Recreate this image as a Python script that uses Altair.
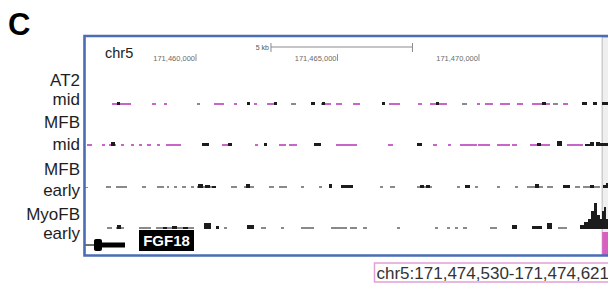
import altair as alt
import pandas as pd

CHROM = "chr5"
VIEW = [171456042, 171474843]            # visible genomic window (bp)
HIGHLIGHT = [171474530, 171474621]       # highlighted region
TICKS = [171460000, 171465000, 171470000]
SCALEBAR = [171462650, 171467650]        # 5 kb
GENE = "FGF18"
GENE_EXON = [171456395, 171456678]
GENE_THICK = [171456678, 171457490]

TRACKS = ["AT2 mid", "MFB mid", "MFB early", "MyoFB early"]
LABEL_LINES = ["AT2", "mid", "MFB", "mid", "MFB", "early", "MyoFB", "early"]

# (start, end, signal, kind)  kind: m = magenta, g = grey, k = black
AT2_MID = [
    (171457031, 171457703, 2, "m"), (171457208, 171457314, 3, "k"),
    (171458445, 171458586, 2, "m"), (171458869, 171458975, 2, "m"),
    (171460035, 171460141, 2, "g"), (171460636, 171460990, 2, "m"),
    (171461343, 171461449, 2, "m"), (171461802, 171461908, 3, "k"),
    (171462050, 171462156, 2, "m"), (171462509, 171462863, 2, "m"),
    (171462757, 171462863, 3, "k"), (171463357, 171463534, 2, "g"),
    (171464064, 171464205, 3, "k"), (171464418, 171464771, 2, "m"),
    (171464453, 171464559, 3, "k"), (171464948, 171465160, 2, "m"),
    (171465548, 171465796, 2, "m"), (171466573, 171466679, 3, "k"),
    (171466821, 171467209, 2, "m"), (171467845, 171467987, 2, "m"),
    (171468270, 171468870, 2, "m"), (171468482, 171468588, 3, "k"),
    (171469400, 171469577, 2, "g"), (171469931, 171470037, 2, "m"),
    (171470213, 171470496, 2, "m"), (171470743, 171471097, 2, "m"),
    (171471344, 171471556, 2, "m"), (171471874, 171472510, 2, "m"),
    (171472228, 171472369, 3, "k"), (171472616, 171472793, 2, "g"),
    (171472970, 171473146, 2, "m"), (171473641, 171473818, 3, "k"),
    (171474030, 171474171, 3, "k"), (171474348, 171474560, 3, "k"),
    (171474737, 171474843, 2, "m"),
]

MFB_MID = [
    (171456148, 171456325, 2, "m"), (171456678, 171456784, 2, "m"),
    (171456925, 171457173, 2, "m"), (171456996, 171457137, 4, "k"),
    (171457349, 171457456, 2, "m"), (171457703, 171457809, 2, "m"),
    (171457986, 171458092, 2, "m"), (171458268, 171458410, 2, "m"),
    (171458622, 171458728, 2, "m"), (171458940, 171459470, 2, "m"),
    (171460212, 171460459, 3, "k"), (171460919, 171461272, 2, "m"),
    (171461131, 171461272, 3, "k"), (171462085, 171462191, 2, "m"),
    (171462403, 171462509, 3, "k"), (171462933, 171463181, 2, "m"),
    (171463287, 171463569, 2, "m"), (171464170, 171464418, 3, "k"),
    (171464948, 171465690, 2, "m"), (171466785, 171466962, 2, "m"),
    (171467810, 171467987, 3, "k"), (171468376, 171468517, 2, "m"),
    (171468906, 171469012, 2, "m"), (171469330, 171469931, 2, "m"),
    (171469966, 171470390, 2, "m"), (171470637, 171471097, 2, "m"),
    (171471167, 171471344, 2, "m"), (171471804, 171472510, 2, "m"),
    (171472051, 171472192, 3, "k"), (171472758, 171472934, 5, "k"),
    (171473111, 171473677, 2, "m"), (171473747, 171473924, 2, "k"),
    (171473924, 171474065, 4, "k"), (171474136, 171474277, 4, "k"),
    (171474277, 171474383, 3, "k"), (171474383, 171474560, 3, "k"),
    (171474560, 171474701, 2, "k"), (171474701, 171474843, 3, "k"),
]

MFB_EARLY = [
    (171456042, 171456183, 1, "g"), (171456819, 171456996, 2, "g"),
    (171457173, 171457562, 2, "g"), (171458092, 171458233, 2, "g"),
    (171458622, 171458869, 2, "g"), (171458975, 171459046, 2, "g"),
    (171459223, 171459329, 2, "g"), (171459505, 171459647, 2, "g"),
    (171459823, 171459929, 2, "g"), (171460035, 171460707, 2, "g"),
    (171460071, 171460247, 4, "k"), (171460318, 171460495, 3, "k"),
    (171460565, 171460707, 2, "k"), (171461237, 171461449, 2, "g"),
    (171461696, 171462050, 2, "g"), (171461767, 171461908, 4, "k"),
    (171462580, 171462757, 2, "g"), (171462933, 171463216, 2, "g"),
    (171463711, 171463817, 2, "g"), (171464347, 171464453, 2, "g"),
    (171464700, 171464806, 4, "k"), (171465124, 171465548, 3, "k"),
    (171466503, 171466609, 2, "g"), (171466856, 171467033, 2, "g"),
    (171467810, 171468340, 2, "g"), (171467916, 171468058, 3, "k"),
    (171468128, 171468270, 3, "k"), (171469224, 171469330, 2, "g"),
    (171469506, 171469683, 3, "k"), (171469860, 171469966, 2, "g"),
    (171470637, 171470743, 2, "g"), (171471273, 171471379, 2, "g"),
    (171471698, 171472263, 2, "g"), (171471980, 171472122, 4, "k"),
    (171472404, 171472616, 2, "g"), (171472970, 171473217, 3, "k"),
    (171473394, 171473571, 2, "g"), (171473677, 171474277, 2, "g"),
    (171473924, 171474065, 3, "k"), (171474383, 171474489, 3, "k"),
    (171474489, 171474631, 5, "k"), (171474631, 171474843, 2, "k"),
]

MYOFB_EARLY = [
    (171456855, 171457031, 2, "g"), (171457173, 171457456, 2, "g"),
    (171457208, 171457349, 4, "k"), (171457986, 171458410, 2, "g"),
    (171458586, 171459929, 2, "g"), (171458834, 171458975, 2, "k"),
    (171459152, 171459329, 3, "k"), (171459541, 171459717, 2, "k"),
    (171460283, 171460530, 6, "k"), (171460707, 171460813, 3, "k"),
    (171460990, 171461096, 2, "g"), (171461802, 171462050, 4, "k"),
    (171462297, 171462474, 2, "g"), (171463004, 171463110, 2, "g"),
    (171463711, 171464170, 2, "g"), (171464771, 171465336, 2, "g"),
    (171465442, 171465690, 2, "g"), (171465902, 171466043, 2, "g"),
    (171467103, 171467209, 2, "g"), (171468446, 171468552, 2, "g"),
    (171468870, 171468976, 2, "g"), (171469153, 171469259, 2, "g"),
    (171469436, 171469577, 2, "g"), (171470390, 171470637, 2, "g"),
    (171471167, 171471344, 4, "k"), (171471874, 171472228, 3, "k"),
    (171472404, 171472581, 6, "k"), (171472793, 171473111, 2, "g"),
    (171473571, 171473712, 4, "k"), (171473712, 171473853, 7, "k"),
    (171473853, 171473959, 10, "k"), (171473959, 171474065, 18, "k"),
    (171474065, 171474171, 26, "k"), (171474171, 171474277, 14, "k"),
    (171474277, 171474348, 10, "k"), (171474348, 171474419, 18, "k"),
    (171474419, 171474489, 22, "k"), (171474489, 171474560, 10, "k"),
    (171474560, 171474631, 6, "k"), (171474631, 171474701, 20, "k"),
    (171474701, 171474772, 28, "k"), (171474772, 171474843, 16, "k"),
]

# ---------------- layout (pixels, page coordinate minus 8) ----------------
W, H = 600, 275
TRACK_BASE = {"AT2 mid": 97, "MFB mid": 138, "MFB early": 180, "MyoFB early": 221}
LABEL_BASELINES = [78, 97, 120, 142, 167, 188, 212, 231]

rows = []
for name, segs in zip(TRACKS, [AT2_MID, MFB_MID, MFB_EARLY, MYOFB_EARLY]):
    for s, e, v, k in segs:
        rows.append({"track": name, "start": s, "end": e, "signal": v, "kind": k,
                     "base": TRACK_BASE[name], "top": TRACK_BASE[name] - v,
                     "ord": {"m": 0, "g": 0, "k": 1}[k]})
seg_df = pd.DataFrame(rows).sort_values("ord", kind="stable")

xs = alt.Scale(domain=VIEW, range=[76, 608], nice=False, zero=False)
ys = alt.Scale(domain=[0, H], range=[0, H], nice=False, zero=False)
X = lambda f: alt.X(f, type="quantitative", scale=xs, axis=None)
Y = lambda f: alt.Y(f, type="quantitative", scale=ys, axis=None)

hl_df = pd.DataFrame({"start": [HIGHLIGHT[0]], "end": [HIGHLIGHT[1]]})
one = pd.DataFrame({"a": [0]})
FONT = "Liberation Sans"

band = alt.Chart(hl_df).mark_rect(xOffset=-5, x2Offset=2, fill="#efefef",
                                  stroke="#b9b9b9", strokeWidth=1).encode(
    x=X("start"), x2="end", y=alt.value(29), y2=alt.value(247))

pink = alt.Chart(hl_df).mark_rect(xOffset=-5, x2Offset=1, color="#d65fc0").encode(
    x=X("start"), x2="end", y=alt.value(224), y2=alt.value(247))

segs = alt.Chart(seg_df).mark_rect().encode(
    x=X("start"), x2="end", y=Y("top"), y2="base",
    color=alt.Color("kind:N", scale=alt.Scale(domain=["m", "g", "k"],
                    range=["#c865c8", "#8a8a8a", "#1c1c1c"]), legend=None))

tick_df = pd.DataFrame({"pos": TICKS, "label": [f"{t:,}" for t in TICKS]})
tick_text = alt.Chart(tick_df).mark_text(align="right", baseline="alphabetic", fontSize=7.5,
                                         color="#6a6a6a", font=FONT, dx=-1).encode(
    x=X("pos"), y=alt.value(53), text="label:N")
tick_rule = alt.Chart(tick_df).mark_rule(color="#777", strokeWidth=0.8).encode(
    x=X("pos"), y=alt.value(46), y2=alt.value(53))

sb_df = pd.DataFrame({"start": [SCALEBAR[0]], "end": [SCALEBAR[1]], "label": ["5 kb"]})
sb_line = alt.Chart(sb_df).mark_rule(color="#8a8a8a", strokeWidth=1).encode(
    x=X("start"), x2="end", y=alt.value(39))
sb_ends = alt.Chart(pd.DataFrame({"pos": SCALEBAR})).mark_rule(color="#8a8a8a").encode(
    x=X("pos"), y=alt.value(35), y2=alt.value(44))
sb_text = alt.Chart(sb_df).mark_text(align="right", baseline="alphabetic", fontSize=7,
                                     color="#555", font=FONT, dx=-2).encode(
    x=X("start"), y=alt.value(42), text="label:N")

gene_line = alt.Chart(pd.DataFrame({"start": [VIEW[0]], "end": [GENE_EXON[0]]})).mark_rule(
    color="#111", strokeWidth=1.2).encode(x=X("start"), x2="end", y=alt.value(237))
gene_exon = alt.Chart(pd.DataFrame({"start": [GENE_EXON[0]], "end": [GENE_EXON[1]]})).mark_rect(
    color="#000", cornerRadius=2).encode(x=X("start"), x2="end", y=alt.value(231), y2=alt.value(243))
gene_thick = alt.Chart(pd.DataFrame({"start": [GENE_THICK[0]], "end": [GENE_THICK[1]]})).mark_rect(
    color="#000").encode(x=X("start"), x2="end", y=alt.value(234.5), y2=alt.value(239.5))
gene_box = alt.Chart(one).mark_rect(color="#000").encode(
    x=alt.value(131), x2=alt.value(186), y=alt.value(222), y2=alt.value(243))
gene_txt = alt.Chart(pd.DataFrame({"name": [GENE]})).mark_text(
    fontSize=15, fontWeight="bold", color="white", font=FONT, align="center",
    baseline="alphabetic").encode(x=alt.value(158.5), y=alt.value(238), text="name:N")

lab_df = pd.DataFrame({"label": LABEL_LINES, "y": LABEL_BASELINES})
labels = alt.Chart(lab_df).mark_text(align="right", baseline="alphabetic", fontSize=17,
                                     color="#1e1e1e", font=FONT).encode(
    x=alt.value(72), y=Y("y"), text="label:N")

frame = alt.Chart(one).mark_rect(fill=None, stroke="#4a6db5", strokeWidth=2.6).encode(
    x=alt.value(76.5), x2=alt.value(630), y=alt.value(28), y2=alt.value(247.5))

chr_txt = alt.Chart(pd.DataFrame({"t": [CHROM]})).mark_text(
    align="left", baseline="alphabetic", fontSize=14.5, color="#222", font=FONT).encode(
    x=alt.value(97), y=alt.value(50), text="t:N")

panel = alt.Chart(pd.DataFrame({"t": ["C"]})).mark_text(
    align="left", baseline="alphabetic", fontSize=31, fontWeight="bold", color="#000",
    font=FONT).encode(x=alt.value(0), y=alt.value(27), text="t:N")

pos_df = pd.DataFrame({"t": [f"{CHROM}:{HIGHLIGHT[0]:,}-{HIGHLIGHT[1]:,}"]})
pos_box = alt.Chart(one).mark_rect(fill="white", stroke="#e3a0d6", strokeWidth=1.5).encode(
    x=alt.value(366.5), x2=alt.value(630), y=alt.value(255), y2=alt.value(274))
pos_txt = alt.Chart(pos_df).mark_text(align="left", baseline="alphabetic", fontSize=17,
                                      color="#333", font=FONT).encode(
    x=alt.value(368.5), y=alt.value(270.5), text="t:N")

chart = alt.layer(
    band, segs, pink, tick_rule, tick_text, sb_line, sb_ends, sb_text,
    gene_line, gene_exon, gene_thick, gene_box, gene_txt,
    labels, frame, chr_txt, panel, pos_box, pos_txt,
).properties(width=W, height=H, padding=0, autosize="none").configure_view(strokeWidth=0)

chart.save("out.html", embed_options={"renderer": "svg", "actions": False})
